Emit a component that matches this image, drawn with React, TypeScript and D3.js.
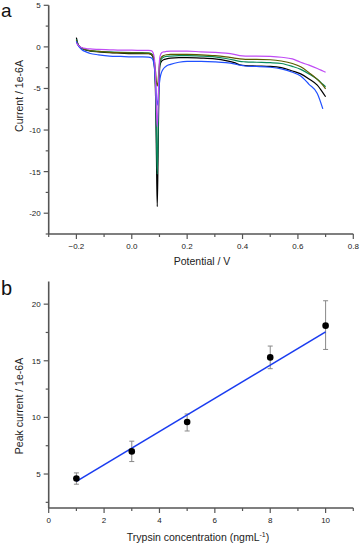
import React from 'react';
import * as d3 from 'd3';

// panel a: voltammograms (current in 1e-6 A)
const potential = [
  -0.2, -0.196, -0.19, -0.18, -0.165, -0.15, -0.12, -0.08, -0.04, 0, 0.04, 0.06,
  0.07, 0.077, 0.082, 0.086, 0.089, 0.092, 0.095, 0.098, 0.102, 0.108, 0.115, 0.125,
  0.14, 0.17, 0.2, 0.25, 0.3, 0.34, 0.37, 0.39, 0.41, 0.45, 0.5, 0.54, 0.58, 0.61,
  0.64, 0.67, 0.69, 0.7,
];

const blackCurve = [
  1.1, 0.5, 0.1, -0.2, -0.4, -0.5, -0.6, -0.7, -0.75, -0.8, -0.8, -0.82,
  -0.9, -1.3, -2.5, -6, -13, -19.2, -13, -5, -2.2, -1.7, -1.55, -1.45,
  -1.35, -1.3, -1.3, -1.35, -1.45, -1.65, -1.9, -2.15, -2.25, -2.3, -2.35, -2.5, -2.9, -3.25,
  -3.85, -4.6, -5.5, -6.0,
];
const greenCurve = [
  0.9, 0.4, 0.1, -0.15, -0.35, -0.45, -0.55, -0.6, -0.65, -0.68, -0.7, -0.72,
  -0.8, -1.1, -2.2, -5, -10.5, -15.3, -10.5, -4, -1.9, -1.4, -1.25, -1.15,
  -1.1, -1.05, -1.05, -1.1, -1.2, -1.4, -1.6, -1.75, -1.8, -1.85, -1.9, -2.0, -2.35, -2.7,
  -3.25, -3.9, -4.5, -4.8,
];
const oliveCurve = [
  0.8, 0.4, 0.1, -0.15, -0.35, -0.45, -0.55, -0.65, -0.7, -0.72, -0.75, -0.77,
  -0.85, -1.1, -1.8, -3, -4.2, -4.7, -4.2, -2.8, -1.6, -1.2, -1.05, -0.95,
  -0.9, -0.9, -0.9, -0.95, -1.05, -1.2, -1.35, -1.45, -1.5, -1.5, -1.55, -1.7, -2.0, -2.4,
  -3.1, -3.9, -4.6, -5.05,
];
const blueCurve = [
  0.7, 0.3, 0.0, -0.35, -0.6, -0.8, -0.95, -1.1, -1.15, -1.2, -1.2, -1.22,
  -1.3, -1.6, -2.5, -4.5, -6.3, -7.0, -6.3, -5, -3.8, -3.0, -2.6, -2.3,
  -2.1, -1.85, -1.75, -1.75, -1.8, -1.9, -2.05, -2.2, -2.3, -2.35, -2.45, -2.65, -3.05, -3.5,
  -4.5, -5.6, -7.45, null,
];
const magentaCurve = [
  0.5, 0.3, 0.1, -0.1, -0.2, -0.25, -0.3, -0.35, -0.4, -0.4, -0.42, -0.42,
  -0.45, -0.7, -1.5, -4, -7.5, -9.6, -7.5, -3, -1.1, -0.7, -0.6, -0.55,
  -0.5, -0.5, -0.5, -0.6, -0.65, -0.75, -0.9, -1.05, -1.1, -1.1, -1.15, -1.25, -1.45, -1.85,
  -2.2, -2.6, -2.9, -3.05,
];

const curves = [
  { name: 'black', values: blackCurve, color: '#000000' },
  { name: 'green', values: greenCurve, color: '#0a8a5c' },
  { name: 'olive', values: oliveCurve, color: '#5c5c00' },
  { name: 'blue', values: blueCurve, color: '#2050ff' },
  { name: 'magenta', values: magentaCurve, color: '#c04cf5' },
];

const potentialTicks = [-0.2, 0.0, 0.2, 0.4, 0.6, 0.8];
const potentialMinor = [-0.3, -0.1, 0.1, 0.3, 0.5, 0.7];
const currentTicks = [-20, -15, -10, -5, 0, 5];
const currentMinor = [-22.5, -17.5, -12.5, -7.5, -2.5, 2.5];

// panel b: calibration
const concentration = [1, 3, 5, 8, 10];
const peakCurrent = [4.6, 7.0, 9.6, 15.3, 18.1];
const errLow = [4.1, 6.1, 8.8, 14.3, 16.0];
const errHigh = [5.1, 7.9, 10.3, 16.3, 20.3];
const fitX = [1, 10];
const fitY = [4.35, 17.55];

const concTicks = [0, 2, 4, 6, 8, 10];
const concMinor = [1, 3, 5, 7, 9, 11];
const peakTicks = [5, 10, 15, 20];
const peakMinor = [2.5, 7.5, 12.5, 17.5];

const FONT = 'Liberation Sans, Arial, sans-serif';
const AXIS = '#555';

const Axes = ({ x, y, xTicks, xMinor, yTicks, yMinor, fmtX, fmtY }) => {
  const [x0, x1] = x.range();
  const [y0, y1] = y.range();
  return (
    <g>
      <line x1={x0} x2={x0} y1={y1} y2={y0} stroke={AXIS} strokeWidth={1.6} />
      <line x1={x0} x2={x1} y1={y0} y2={y0} stroke={AXIS} strokeWidth={1.6} />
      {yTicks.map((t) => (
        <g key={'yt' + t}>
          <line x1={x0 - 5} x2={x0} y1={y(t)} y2={y(t)} stroke={AXIS} strokeWidth={1.2} />
          <text x={x0 - 8} y={y(t) + 3} textAnchor="end" fontSize={8} fill="#222">
            {fmtY(t)}
          </text>
        </g>
      ))}
      {yMinor.map((t) => (
        <line key={'ym' + t} x1={x0 - 3} x2={x0} y1={y(t)} y2={y(t)} stroke={AXIS} strokeWidth={1.2} />
      ))}
      {xTicks.map((t) => (
        <g key={'xt' + t}>
          <line x1={x(t)} x2={x(t)} y1={y0} y2={y0 + 5} stroke={AXIS} strokeWidth={1.2} />
          <text x={x(t)} y={y0 + 15} textAnchor="middle" fontSize={8} fill="#222">
            {fmtX(t)}
          </text>
        </g>
      ))}
      {xMinor.map((t) => (
        <line key={'xm' + t} x1={x(t)} x2={x(t)} y1={y0} y2={y0 + 3} stroke={AXIS} strokeWidth={1.2} />
      ))}
    </g>
  );
};

export default function App() {
  // panel a scales
  const xa = d3.scaleLinear().domain([-0.3, 0.8]).range([48.7, 353.3]);
  const ya = d3.scaleLinear().domain([-22.5, 5]).range([234, 5.3]);

  // panel b scales
  const xb = d3.scaleLinear().domain([0, 11]).range([48.7, 353.3]);
  const yb = d3.scaleLinear().domain([2, 22]).range([508, 281.5]);

  const cvLine = d3
    .line<number>()
    .defined((d) => d !== null)
    .x((_, i) => xa(potential[i]))
    .y((d) => ya(d))
    .curve(d3.curveMonotoneX);

  const fitLine = d3
    .line<number>()
    .x((d) => xb(d))
    .y((_, i) => yb(fitY[i]));

  return (
    <div style={{ position: 'absolute', left: 0, top: 0 }}>
      <svg width={361} height={546} style={{ display: 'block', background: '#fff' }} fontFamily={FONT}>
        {/* panel a */}
        <text x={1} y={17} fontSize={19} fill="#111">a</text>
        <Axes
          x={xa}
          y={ya}
          xTicks={potentialTicks}
          xMinor={potentialMinor}
          yTicks={currentTicks}
          yMinor={currentMinor}
          fmtX={d3.format('.1f')}
          fmtY={(v) => String(v)}
        />
        {curves.map((c) => (
          <path key={c.name} d={cvLine(c.values) || ''} fill="none" stroke={c.color} strokeWidth={1.2} />
        ))}
        <text x={202} y={265} textAnchor="middle" fontSize={10.5} fill="#222">Potential / V</text>
        <text transform="translate(23,96) rotate(-90)" textAnchor="middle" fontSize={10.5} fill="#222">
          Current / 1e-6A
        </text>

        {/* panel b */}
        <text x={1} y={295} fontSize={20} fill="#111">b</text>
        <Axes
          x={xb}
          y={yb}
          xTicks={concTicks}
          xMinor={concMinor}
          yTicks={peakTicks}
          yMinor={peakMinor}
          fmtX={(v) => String(v)}
          fmtY={(v) => String(v)}
        />
        {concentration.map((c, i) => (
          <g key={'e' + c} stroke="#888" strokeWidth={1}>
            <line x1={xb(c)} x2={xb(c)} y1={yb(errLow[i])} y2={yb(errHigh[i])} />
            <line x1={xb(c) - 2.5} x2={xb(c) + 2.5} y1={yb(errLow[i])} y2={yb(errLow[i])} />
            <line x1={xb(c) - 2.5} x2={xb(c) + 2.5} y1={yb(errHigh[i])} y2={yb(errHigh[i])} />
          </g>
        ))}
        <path d={fitLine(fitX) || ''} fill="none" stroke="#1a3cf0" strokeWidth={1.6} />
        {concentration.map((c, i) => (
          <circle key={'p' + c} cx={xb(c)} cy={yb(peakCurrent[i])} r={3.3} fill="#000" />
        ))}
        <text x={198} y={541} textAnchor="middle" fontSize={10.5} fill="#222">
          Trypsin concentration (ngmL<tspan dy={-4} fontSize={7}>-1</tspan><tspan dy={4}>)</tspan>
        </text>
        <text transform="translate(23,406) rotate(-90)" textAnchor="middle" fontSize={10.5} fill="#222">
          Peak current / 1e-6A
        </text>
      </svg>
    </div>
  );
}
